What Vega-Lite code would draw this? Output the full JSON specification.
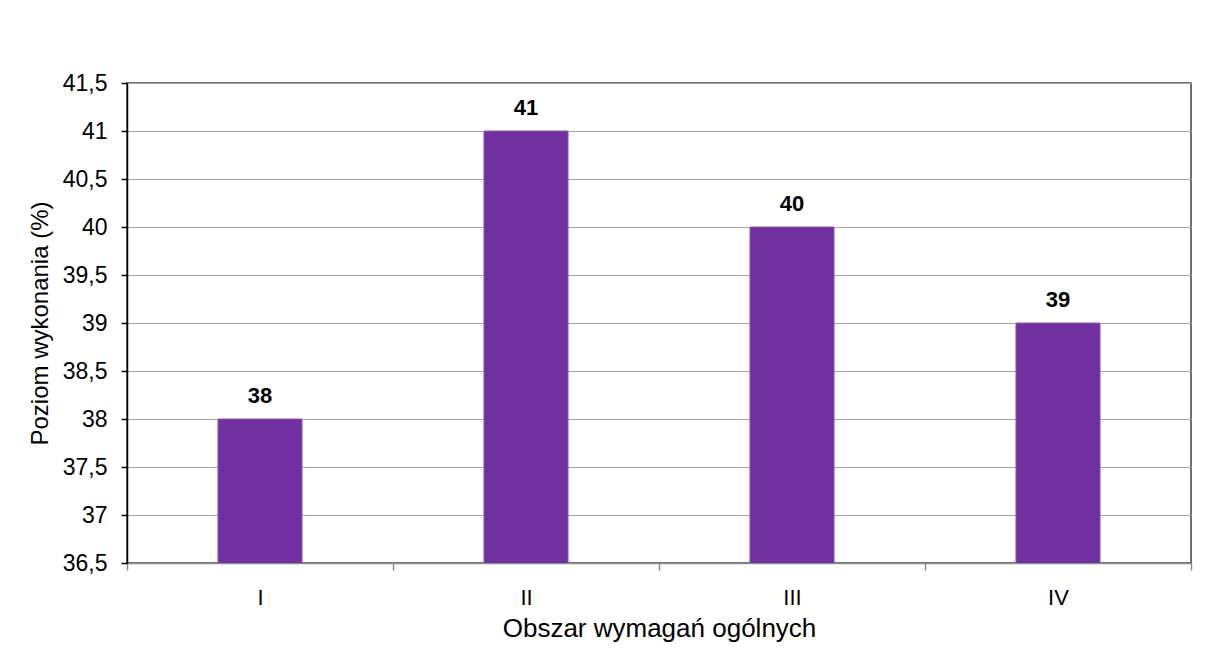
{
  "$schema": "https://vega.github.io/schema/vega-lite/v6.json",
  "width": 1064,
  "height": 480,
  "autosize": "none",
  "padding": {"left": 127, "top": 83, "right": 15, "bottom": 97},
  "background": "white",
  "config": {
    "font": "Liberation Sans",
    "locale": {"number": {"decimal": ",", "thousands": " ", "grouping": [3], "currency": ["", " zł"]}},
    "view": {"stroke": "#404040", "strokeWidth": 1.5}
  },
  "data": {"values": [
    {"obszar": "I", "wartosc": 38},
    {"obszar": "II", "wartosc": 41},
    {"obszar": "III", "wartosc": 40},
    {"obszar": "IV", "wartosc": 39}
  ]},
  "encoding": {
    "x": {
      "field": "obszar", "type": "nominal", "sort": null,
      "scale": {"paddingInner": 0, "paddingOuter": 0},
      "axis": {
        "title": "Obszar wymagań ogólnych", "titleFontSize": 26, "titleFontWeight": "normal", "titleColor": "black", "titlePadding": 7,
        "labelAngle": 0, "labelFontSize": 22, "labelColor": "black", "labelPadding": 17,
        "tickBand": "extent", "tickSize": 7, "tickColor": "#8c8c8c", "tickWidth": 1.5,
        "domainColor": "#8c8c8c", "domainWidth": 1.5, "grid": false
      }
    },
    "y": {
      "field": "wartosc", "type": "quantitative",
      "scale": {"domain": [36.5, 41.5], "zero": false, "nice": false},
      "axis": {
        "title": "Poziom wykonania (%)", "titleFontSize": 24, "titleFontWeight": "normal", "titleColor": "black", "titlePadding": 10,
        "values": [36.5, 37, 37.5, 38, 38.5, 39, 39.5, 40, 40.5, 41, 41.5],
        "format": ".1~f", "labelFontSize": 23, "labelColor": "black", "labelPadding": 14,
        "tickSize": 6, "tickColor": "black", "tickWidth": 1.5,
        "domainColor": "black", "domainWidth": 1.5,
        "grid": true, "gridColor": "#a6a6a6", "gridWidth": 1
      }
    }
  },
  "layer": [
    {"mark": {"type": "bar", "clip": true, "width": {"band": 0.316}, "color": "#7030A0", "stroke": "#8a55b5", "strokeWidth": 1}},
    {
      "mark": {"type": "text", "baseline": "bottom", "dy": -11, "fontSize": 22, "fontWeight": "bold", "color": "black"},
      "encoding": {"text": {"field": "wartosc", "type": "quantitative", "format": "d"}}
    }
  ]
}
